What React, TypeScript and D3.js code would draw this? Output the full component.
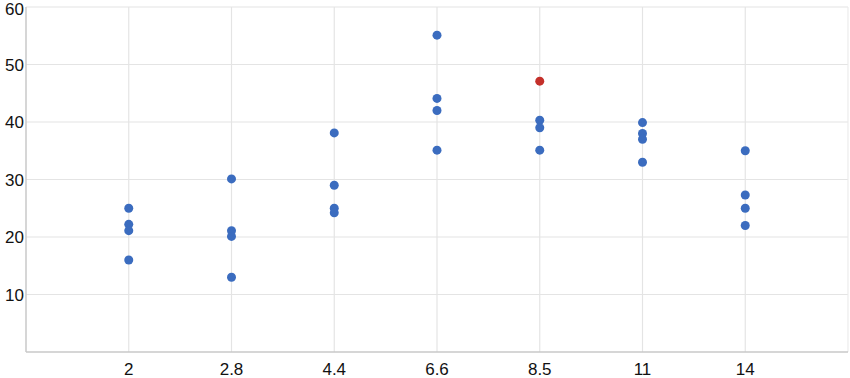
import React from "react";
import * as d3 from "d3";

const categories = ["2", "2.8", "4.4", "6.6", "8.5", "11", "14"];
const seriesValues: number[][] = [
  [25, 22.2, 21.1, 16],
  [30.1, 21.1, 20.1, 13],
  [38.1, 29, 25, 24.2],
  [55.1, 44.1, 42, 35.1],
  [40.3, 39, 35.1],
  [39.9, 38, 37, 33],
  [35, 27.3, 25, 22],
];
const highlightCategory = "8.5";
const highlightValues = [47.1];
const yTicks = [10, 20, 30, 40, 50, 60];

const W = 850;
const H = 378;
const margin = { left: 26, right: 2, top: 7, bottom: 26 };

export default function App() {
  const x = d3
    .scalePoint<string>()
    .domain(categories)
    .range([margin.left, W - margin.right])
    .padding(1);
  const y = d3.scaleLinear().domain([0, 60]).range([H - margin.bottom, margin.top]);

  const blue = categories.flatMap((c, i) => seriesValues[i].map((v) => ({ c, v })));
  const red = highlightValues.map((v) => ({ c: highlightCategory, v }));
  const font = "Arial, 'Liberation Sans', sans-serif";

  return (
    <svg
      width={W}
      height={H}
      style={{ position: "absolute", left: 0, top: 0, background: "#fff" }}
    >
      {yTicks.map((t) => (
        <line
          key={"gy" + t}
          x1={margin.left}
          x2={W - margin.right}
          y1={y(t)}
          y2={y(t)}
          stroke="#e4e4e4"
          strokeWidth={1.2}
        />
      ))}
      {categories.map((c) => (
        <line
          key={"gx" + c}
          x1={x(c)}
          x2={x(c)}
          y1={y(60)}
          y2={y(0)}
          stroke="#e4e4e4"
          strokeWidth={1.2}
        />
      ))}
      <line
        x1={W - margin.right}
        x2={W - margin.right}
        y1={y(60)}
        y2={y(0)}
        stroke="#ececec"
        strokeWidth={1.2}
      />
      <line x1={margin.left} x2={margin.left} y1={y(60)} y2={y(0)} stroke="#c8c8c8" strokeWidth={1.5} />
      <line x1={margin.left} x2={W - margin.right} y1={y(0)} y2={y(0)} stroke="#c8c8c8" strokeWidth={1.5} />
      {yTicks.map((t) => (
        <text
          key={"ty" + t}
          x={margin.left - 2}
          y={Math.max(y(t), 9)}
          dy="0.36em"
          textAnchor="end"
          fontFamily={font}
          fontSize={17}
          fill="#111"
        >
          {t}
        </text>
      ))}
      {categories.map((c) => (
        <text
          key={"tx" + c}
          x={x(c)}
          y={H - 3}
          textAnchor="middle"
          fontFamily={font}
          fontSize={17}
          fill="#111"
        >
          {c}
        </text>
      ))}
      {blue.map((d, i) => (
        <circle key={"b" + i} cx={x(d.c)} cy={y(d.v)} r={4.5} fill="#3b6cbf" />
      ))}
      {red.map((d, i) => (
        <circle key={"r" + i} cx={x(d.c)} cy={y(d.v)} r={4.5} fill="#c4302a" />
      ))}
    </svg>
  );
}
